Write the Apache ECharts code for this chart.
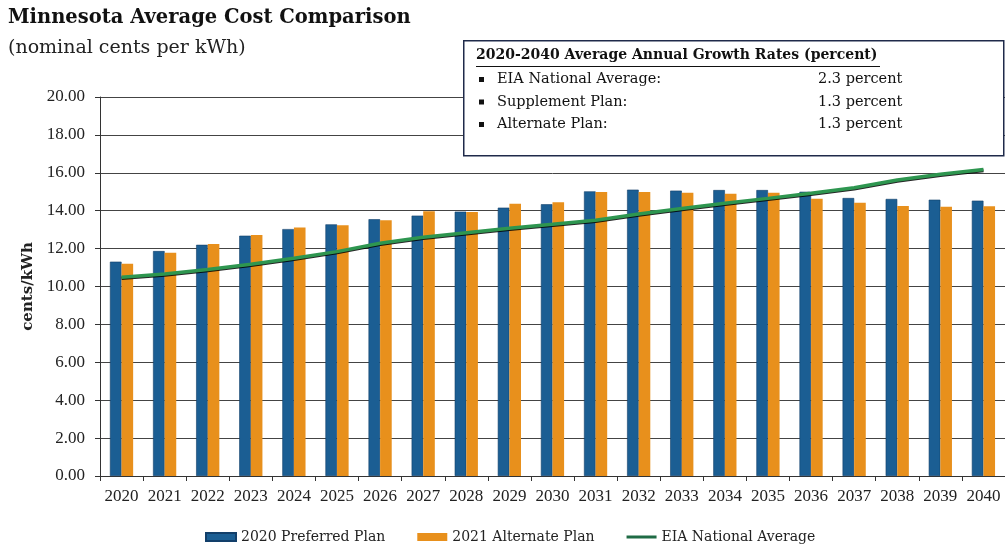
<!DOCTYPE html>
<html>
<head>
<meta charset="utf-8">
<script src="https://cdn.jsdelivr.net/npm/echarts@6/dist/echarts.min.js"></script>
<style>
html,body{margin:0;padding:0;background:#fff;}
#chart{width:1005px;height:550px;}
</style>
</head>
<body>
<div id="chart"></div>
<script>
const years = ['2020','2021','2022','2023','2024','2025','2026','2027','2028','2029','2030','2031','2032','2033','2034','2035','2036','2037','2038','2039','2040'];
const preferredPlan = [11.31,11.87,12.20,12.68,13.03,13.28,13.55,13.74,13.95,14.16,14.34,15.02,15.11,15.06,15.09,15.09,15.00,14.67,14.62,14.58,14.53];
const alternatePlan = [11.20,11.78,12.24,12.72,13.12,13.23,13.49,13.97,13.93,14.37,14.44,14.99,14.99,14.95,14.90,14.95,14.63,14.42,14.25,14.21,14.23];
const eiaAverage = [10.49,10.66,10.90,11.17,11.49,11.84,12.28,12.60,12.84,13.07,13.28,13.50,13.83,14.12,14.39,14.65,14.92,15.21,15.62,15.92,16.18];
const yTicks = [0,2,4,6,8,10,12,14,16,18,20];
const seriesNames = ['2020 Preferred Plan','2021 Alternate Plan','EIA National Average'];
const boxTitle = '2020-2040 Average Annual Growth Rates (percent)';
const boxRows = [['EIA National Average:','2.3 percent'],['Supplement Plan:','1.3 percent'],['Alternate Plan:','1.3 percent']];

const serif = '"Liberation Serif", serif';
const wide = '"DejaVu Serif", serif';
const chart = echarts.init(document.getElementById('chart'), null, {renderer:'canvas'});

const boxGraphics = [
  {type:'rect', left:463, top:40, z:100, shape:{width:540, height:115}, style:{fill:'#fff', stroke:'#1f2a4a', lineWidth:1.5}},
  {type:'text', left:476, top:48, z:101, style:{text:boxTitle, font:'bold 14px ' + wide, fill:'#111'}},
  {type:'rect', left:476, top:66, z:101, shape:{width:404, height:1}, style:{fill:'#111'}}
];
boxRows.forEach((r, i) => {
  const y = 72 + i * 22.5;
  boxGraphics.push({type:'rect', left:479, top:y + 5, z:101, shape:{width:5, height:5}, style:{fill:'#111'}});
  boxGraphics.push({type:'text', left:497, top:y, z:101, style:{text:r[0], font:'14.5px ' + wide, fill:'#111'}});
  boxGraphics.push({type:'text', left:818, top:y, z:101, style:{text:r[1], font:'14.5px ' + wide, fill:'#111'}});
});

chart.setOption({
  animation:false,
  backgroundColor:'#fff',
  textStyle:{fontFamily:serif},
  title:[
    {text:'Minnesota Average Cost Comparison', left:3, top:3, textStyle:{fontFamily:wide, fontWeight:'bold', fontSize:19.5, color:'#111'}},
    {text:'(nominal cents per kWh)', left:3, top:34, textStyle:{fontFamily:wide, fontWeight:'normal', fontSize:19, color:'#222'}}
  ],
  graphic:boxGraphics,
  legend:{
    bottom:1, left:200, itemGap:32, itemWidth:30, itemHeight:8,
    textStyle:{fontFamily:wide, fontSize:14, color:'#222'},
    data:[
      {name:seriesNames[0], icon:'rect'},
      {name:seriesNames[1], icon:'rect'},
      {name:seriesNames[2], icon:'path://M0,0 L30,0 L30,3 L0,3 Z', itemStyle:{color:'#1f6b45'}}
    ]
  },
  grid:{left:100, top:97, width:915.6, height:379},
  xAxis:{
    type:'category', data:years,
    axisLine:{lineStyle:{color:'#333', width:1}},
    axisTick:{show:true, alignWithLabel:false, length:5, lineStyle:{color:'#333'}},
    axisLabel:{fontFamily:serif, fontSize:17, color:'#222', margin:12, interval:0}
  },
  yAxis:{
    type:'value', min:yTicks[0], max:yTicks[yTicks.length-1], interval:2,
    name:'cents/kWh', nameLocation:'middle', nameGap:63, nameRotate:90,
    nameTextStyle:{fontFamily:wide, fontWeight:'bold', fontSize:15, color:'#222'},
    axisLine:{show:true, lineStyle:{color:'#333', width:1}},
    axisTick:{show:true, inside:false, length:5, lineStyle:{color:'#333'}},
    splitLine:{show:true, lineStyle:{color:'#444', width:1}},
    axisLabel:{fontFamily:serif, fontSize:17, color:'#222', margin:15, formatter:v => v.toFixed(2)}
  },
  series:[
    {name:seriesNames[0], type:'bar', data:preferredPlan, barWidth:11.6, barGap:'0%',
     itemStyle:{color:'#1b5e93', borderColor:'#123f6a', borderWidth:0.6}},
    {name:seriesNames[1], type:'bar', data:alternatePlan, barWidth:11.6, barGap:'0%',
     itemStyle:{color:'#e8901c'}},
    {name:seriesNames[2], type:'line', data:eiaAverage, showSymbol:false, symbol:'none', smooth:false, z:5,
     lineStyle:{color:'#2e9650', width:3.5, shadowColor:'rgba(0,0,0,0.85)', shadowBlur:0, shadowOffsetY:1}}
  ]
});
</script>
</body>
</html>
